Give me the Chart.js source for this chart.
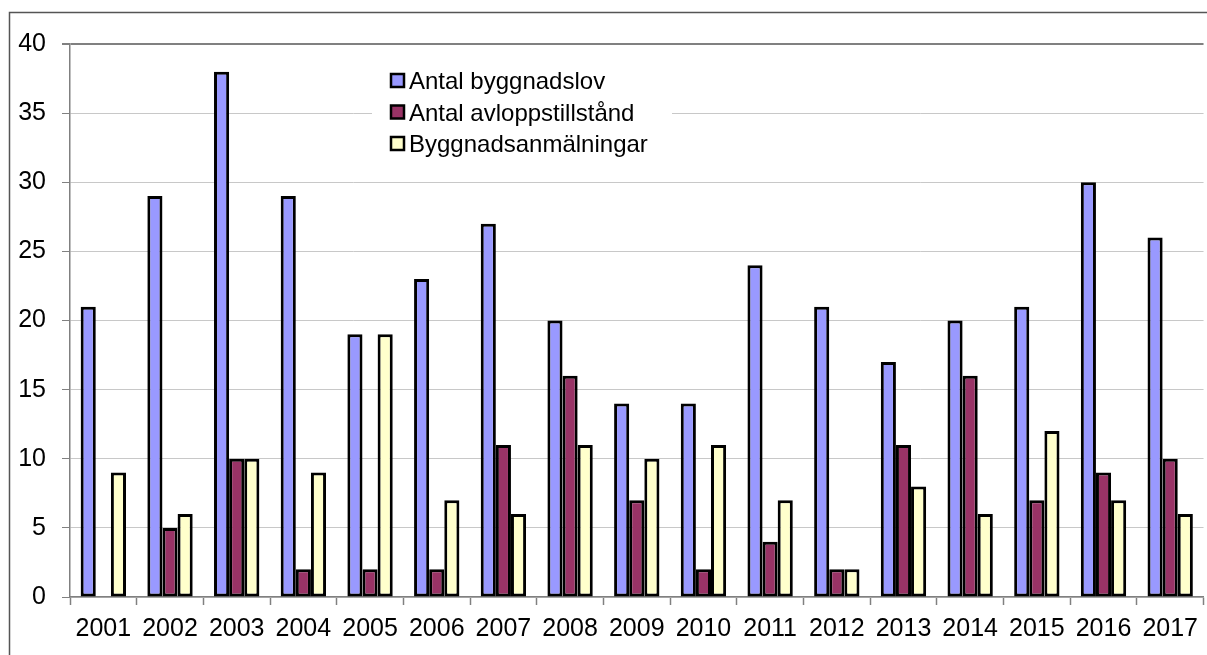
<!DOCTYPE html>
<html>
<head>
<meta charset="utf-8">
<script src="https://cdn.jsdelivr.net/npm/chart.js@4"></script>
<style>
  html, body { margin: 0; padding: 0; background: #fff; }
  #wrap { width: 1207px; height: 655px; position: relative; }
</style>
</head>
<body>
<div id="wrap"><canvas id="chart" width="1207" height="655"></canvas></div>
<script>
const years = ["2001","2002","2003","2004","2005","2006","2007","2008","2009",
               "2010","2011","2012","2013","2014","2015","2016","2017"];
const byggnadslov = [21,29,38,29,19,23,27,20,14,14,24,21,17,20,21,30,26];
const avlopp = [0,5,10,2,2,2,11,16,7,2,4,2,11,16,7,9,10];
const anmalningar = [9,6,10,9,19,7,6,11,10,11,7,2,8,6,12,7,6];
const seriesNames = ["Antal byggnadslov","Antal avloppstillstånd","Byggnadsanmälningar"];
const seriesColors = ["#9999FF","#993366","#FFFFCC"];

const FONT = "Arial, 'Liberation Sans', sans-serif";

// outer frame, like the Excel chart border
const framePlugin = {
    id: "frame",
    beforeDraw(chart){
        const c = chart.ctx;
        c.save();
        c.strokeStyle = "#555";
        c.lineWidth = 1.5;
        c.beginPath();
        c.moveTo(9.5, 655);
        c.lineTo(9.5, 12.5);
        c.lineTo(1207, 12.5);
        c.stroke();
        c.restore();
    }
};

// legend sitting inside the plot area
const insideLegend = {
    id: "insideLegend",
    afterDraw(chart){
        const c = chart.ctx;
        c.save();
        c.fillStyle = "#fff";
        c.fillRect(372, 60, 300, 106);
        c.font = "24px " + FONT;
        c.textBaseline = "alphabetic";
        chart.data.datasets.forEach((ds, i) => {
            const base = 89 + i * 31.5;
            c.fillStyle = ds.backgroundColor;
            c.fillRect(391, base - 15, 13, 13);
            c.strokeStyle = "#000";
            c.lineWidth = 2.5;
            c.strokeRect(391, base - 15, 13, 13);
            c.fillStyle = "#000";
            c.fillText(ds.label, 409, base);
        });
        c.restore();
    }
};

function makeDataset(i, values){
    return {
        label: seriesNames[i],
        data: values,
        backgroundColor: seriesColors[i],
        borderColor: "#000",
        borderWidth: 3,
        borderSkipped: false,
        categoryPercentage: 0.68,
        barPercentage: 1.0
    };
}

new Chart(document.getElementById("chart"), {
    type: "bar",
    data: {
        labels: years,
        datasets: [
            makeDataset(0, byggnadslov),
            makeDataset(1, avlopp),
            makeDataset(2, anmalningar)
        ]
    },
    options: {
        responsive: false,
        animation: false,
        layout: { padding: { top: 44, right: 0, left: 0, bottom: 0 } },
        plugins: {
            legend: { display: false },
            tooltip: { enabled: false }
        },
        scales: {
            x: {
                offset: true,
                grid: {
                    offset: true,
                    drawOnChartArea: false,
                    tickLength: 8,
                    tickColor: "#808080",
                    tickWidth: 1.5
                },
                border: { color: "#808080", width: 1.5 },
                ticks: {
                    color: "#000",
                    font: { family: FONT, size: 25 },
                    padding: 9,
                    maxRotation: 0,
                    autoSkip: false
                },
                afterFit(scale){ scale.height = 58; }
            },
            y: {
                min: 0,
                max: 40,
                ticks: {
                    stepSize: 5,
                    color: "#000",
                    font: { family: FONT, size: 25 },
                    padding: 16
                },
                grid: {
                    color: ctx => ctx.tick && ctx.tick.value === 40 ? "#808080" : "#c8c8c8",
                    lineWidth: ctx => ctx.tick && ctx.tick.value === 40 ? 2 : 1,
                    tickColor: "#808080",
                    tickLength: 8
                },
                border: { color: "#808080", width: 1.5 },
                afterFit(scale){ scale.width = 70; }
            }
        }
    },
    plugins: [framePlugin, insideLegend]
});
</script>
</body>
</html>
